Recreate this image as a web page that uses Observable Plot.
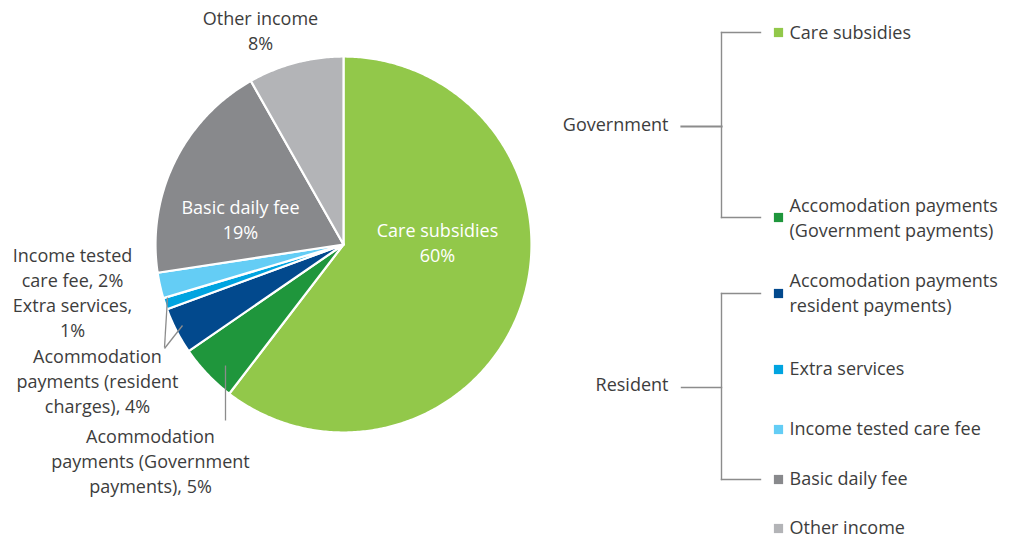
<!DOCTYPE html>
<html><head><meta charset="utf-8">
<script src="https://cdn.jsdelivr.net/npm/d3@7"></script>
<script src="https://cdn.jsdelivr.net/npm/@observablehq/plot@0.6"></script>
<style>body{margin:0;background:#fff} svg{display:block}</style>
</head><body><div id="chart"></div>
<script>
// ---- data ----
const categories = ["Care subsidies","Accomodation payments (Government payments)","Accomodation payments (resident payments)","Extra services","Income tested care fee","Basic daily fee","Other income"];
const shares = [60.4, 5.0, 4.0, 1.0, 2.2, 19.2, 8.2];
const colors = ["#92c84a","#1f963c","#02498d","#00a4e0","#64cdf5","#88898c","#b3b4b7"];
const sliceLabels = ["Care subsidies\n60%","Acommodation\npayments (Government\npayments), 5%","Acommodation\npayments (resident\ncharges), 4%","Extra services,\n1%","Income tested\ncare fee, 2%","Basic daily fee\n19%","Other income\n8%"];
const legendLabels = ["Care subsidies","Accomodation payments\n(Government payments)","Accomodation payments\nresident payments)","Extra services","Income tested care fee","Basic daily fee","Other income"];
const groups = ["Government","Resident"];
const groupMembers = [[0,1],[2,3,4,5]];

// ---- layout ----
const W = 1016, H = 540;
const cx = 343, cy = 244, R = 188;
const labelPos = [[437,241],[150,459],[97,379],[72,316],[72,266],[240,218],[260,29]];
const labelFill = ["white","#3d3d3d","#3d3d3d","#3d3d3d","#3d3d3d","white","#3d3d3d"];
const leaders = [[225,365,225,420],[182,325,164,348],[167,297,164,347]];
const legendX = 778, legendTextX = 789;
const legendY = [32,217,293,369,429,479,528];
const textY = [31,216,291,367,427,477,526];
const bracketX = 721, tickX2 = 760, connX1 = 681, groupLabelX = 668;
const groupY = [126,387];
const groupTextY = [125,385];
const font = "Open Sans";

// ---- pie geometry ----
const arcs = d3.pie().sort(null).value(d => d)(shares);
const pieData = [];
arcs.forEach((a, i) => {
  pieData.push({key: i, x: cx, y: cy, color: colors[i]});
  const n = Math.max(4, Math.ceil((a.endAngle - a.startAngle) / 0.01));
  for (let k = 0; k <= n; k++) {
    const t = a.startAngle + (a.endAngle - a.startAngle) * k / n;
    pieData.push({key: i, x: cx + R * Math.sin(t), y: cy - R * Math.cos(t), color: colors[i]});
  }
  pieData.push({key: i, x: cx, y: cy, color: colors[i]});
});

const labelData = sliceLabels.map((t, i) => ({text: t, x: labelPos[i][0], y: labelPos[i][1], fill: labelFill[i]}));
const leaderData = leaders.map(l => ({x1: l[0], y1: l[1], x2: l[2], y2: l[3]}));
const legendData = legendLabels.map((t, i) => ({text: t, y: legendY[i], ty: textY[i], color: colors[i]}));

const bracketData = [];
groupMembers.forEach((m, g) => {
  const y1 = legendY[m[0]], y2 = legendY[m[m.length - 1]];
  bracketData.push({x1: bracketX, y1: y1, x2: bracketX, y2: y2, w: 1.4});
  bracketData.push({x1: bracketX, y1: y1, x2: tickX2, y2: y1, w: 1.4});
  bracketData.push({x1: bracketX, y1: y2, x2: tickX2, y2: y2, w: 1.4});
  bracketData.push({x1: connX1, y1: groupY[g], x2: bracketX, y2: groupY[g], w: g === 0 ? 2.2 : 1.4});
});
const groupData = groups.map((t, g) => ({text: t, y: groupTextY[g]}));

const chart = Plot.plot({
  width: W, height: H, margin: 0,
  x: {domain: [0, W], range: [0, W], axis: null},
  y: {domain: [0, H], range: [0, H], axis: null},
  color: {type: "identity"},
  marks: [
    Plot.line(pieData, {x: "x", y: "y", z: "key", fill: "color", stroke: "white", strokeWidth: 2.2, strokeLinejoin: "round", curve: "linear"}),
    Plot.link(leaderData, {x1: "x1", y1: "y1", x2: "x2", y2: "y2", stroke: "#8c8c8c", strokeWidth: 1.3}),
    Plot.text(labelData, {x: "x", y: "y", text: "text", fill: "fill", fontFamily: font, fontSize: 18, lineHeight: 1.39, textAnchor: "middle"}),
    Plot.link(bracketData, {x1: "x1", y1: "y1", x2: "x2", y2: "y2", stroke: "#8c8c8c", strokeWidth: "w", strokeLinecap: "square"}),
    Plot.text(groupData, {x: groupLabelX, y: "y", text: "text", fill: "#3d3d3d", fontFamily: font, fontSize: 18, textAnchor: "end"}),
    Plot.dot(legendData, {x: legendX, y: "y", symbol: "square", r: 5.2, fill: "color", stroke: null}),
    Plot.text(legendData, {x: legendTextX, y: "ty", text: "text", fill: "#3d3d3d", fontFamily: font, fontSize: 18, lineHeight: 1.36, textAnchor: "start"})
  ]
});
document.getElementById("chart").appendChild(chart);
</script>
</body></html>
